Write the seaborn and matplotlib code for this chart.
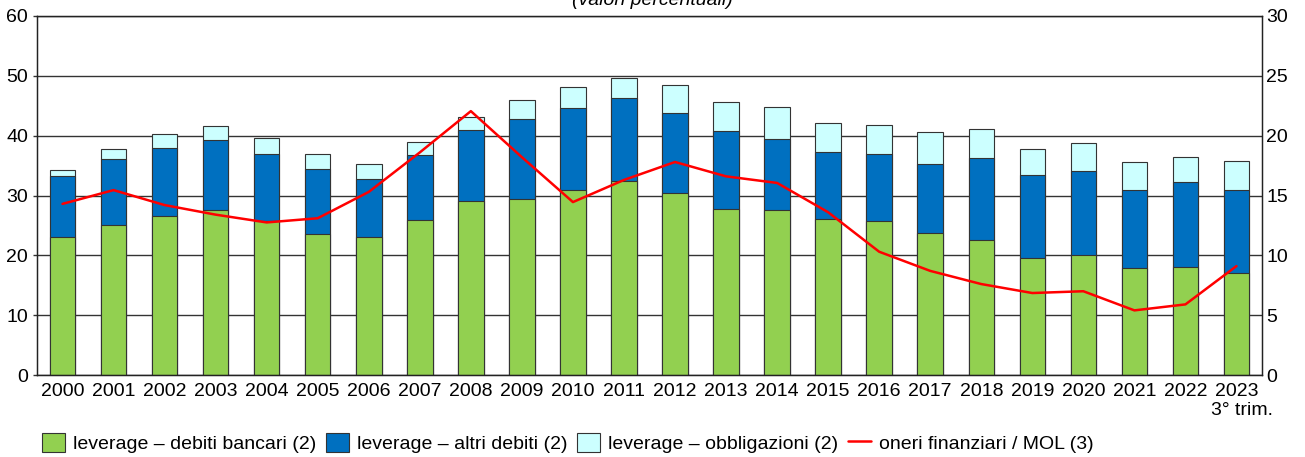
import numpy as np
import pandas as pd
import matplotlib
matplotlib.use("Agg")
import matplotlib.pyplot as plt
import seaborn as sns
from matplotlib.patches import Patch
from matplotlib.lines import Line2D

years = [str(y) for y in range(2000, 2024)]
nota_ultimo = "3° trim."
debiti_bancari = [23.1, 25.0, 26.6, 27.6, 25.7, 23.5, 23.0, 25.9, 29.0, 29.4, 31.0, 32.5,
                  30.4, 27.7, 27.5, 26.1, 25.8, 23.8, 22.5, 19.5, 20.1, 17.9, 18.0, 17.1]
altri_debiti = [10.1, 11.1, 11.4, 11.7, 11.2, 10.9, 9.7, 10.8, 11.9, 13.4, 13.6, 13.8,
                13.4, 13.0, 11.9, 11.1, 11.2, 11.5, 13.7, 13.9, 14.0, 13.0, 14.2, 13.9]
obbligazioni = [1.1, 1.7, 2.2, 2.3, 2.7, 2.5, 2.5, 2.3, 2.2, 3.1, 3.6, 3.3,
                4.6, 4.9, 5.4, 4.9, 4.7, 5.3, 4.9, 4.4, 4.6, 4.7, 4.3, 4.7]
oneri_mol = [14.3, 15.45, 14.2, 13.4, 12.75, 13.1, 15.3, 18.6, 22.05, 18.2, 14.45, 16.3,
             17.8, 16.6, 16.05, 13.6, 10.3, 8.7, 7.6, 6.85, 7.0, 5.4, 5.9, 9.1]

labels = ["leverage \u2013 debiti bancari (2)", "leverage \u2013 altri debiti (2)",
          "leverage \u2013 obbligazioni (2)", "oneri finanziari / MOL (3)"]
green, blue, cyan, red = "#92D050", "#0070C0", "#CCFFFF", "#FF0000"

df = pd.DataFrame({"anno": years, "banc": debiti_bancari, "altri": altri_debiti, "obbl": obbligazioni})
df["lev_altri"] = df["banc"] + df["altri"]
df["lev_tot"] = df["lev_altri"] + df["obbl"]

sns.set_style("white")
plt.rcParams["font.family"] = ["Liberation Sans", "DejaVu Sans"]
plt.rcParams["font.size"] = 14
plt.rcParams["text.color"] = "black"
plt.rcParams["xtick.color"] = "black"
plt.rcParams["ytick.color"] = "black"

fig, ax = plt.subplots(figsize=(13.05, 4.57), dpi=100)
fig.subplots_adjust(left=37 / 1305, right=1262 / 1305, top=1 - 16 / 457, bottom=1 - 375 / 457)

for col, c in [("lev_tot", cyan), ("lev_altri", blue), ("banc", green)]:
    sns.barplot(data=df, x="anno", y=col, color=c, width=0.5, edgecolor="#333333",
                linewidth=0.8, saturation=1, ax=ax, zorder=2)

ax.set_ylim(0, 60)
ax.set_xlim(-0.5, len(years) - 0.5)
ax.set_yticks(range(0, 61, 10))
ax.yaxis.grid(True, color="#333333", linewidth=1)
ax.set_axisbelow(True)
ax.set_xlabel("")
ax.set_ylabel("")
ax.tick_params(axis="x", length=0, pad=6, labelsize=14)
ax.tick_params(axis="y", length=3, width=1, color="#333333", labelsize=14, pad=3.5, left=True)
for s in ax.spines.values():
    s.set_color("#222222")
    s.set_linewidth(1)

# nota sotto l'ultimo anno
ax.annotate(nota_ultimo, xy=(len(years) - 1, 0), xycoords="data", xytext=(-25, -40),
            textcoords="offset pixels", ha="left", va="baseline", fontsize=14,
            annotation_clip=False)

ax2 = ax.twinx()
sns.lineplot(x=np.arange(len(years)), y=oneri_mol, color=red, linewidth=1.8, ax=ax2)
ax2.set_ylim(0, 30)
ax2.set_yticks(range(0, 31, 5))
ax2.tick_params(axis="y", length=0, labelsize=14, pad=3)
ax2.set_xlim(-0.5, len(years) - 0.5)
for s in ax2.spines.values():
    s.set_color("#222222")

fig.text(0.5, 1 - 5 / 457, "(valori percentuali)", ha="center", va="baseline",
         fontsize=14, style="italic")

handles = [Patch(facecolor=green, edgecolor="#333333", linewidth=0.8),
           Patch(facecolor=blue, edgecolor="#333333", linewidth=0.8),
           Patch(facecolor=cyan, edgecolor="#333333", linewidth=0.8),
           Line2D([0], [0], color=red, linewidth=1.8)]
fig.legend(handles, labels, loc="center left", bbox_to_anchor=(42 / 1305, 1 - 443 / 457),
           ncol=4, frameon=False, borderpad=0, borderaxespad=0, handlelength=1.18,
           handleheight=1.18, handletextpad=0.41, columnspacing=0.5, fontsize=14)

fig.savefig("out.png", dpi=100)
